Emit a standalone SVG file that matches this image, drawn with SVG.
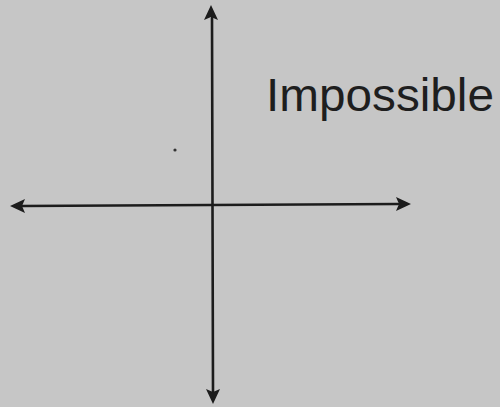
<svg xmlns="http://www.w3.org/2000/svg" width="500" height="407" viewBox="0 0 500 407">
<style>
.ax{stroke:#1c1c1c;stroke-width:2.6;fill:none;stroke-linecap:round}
.hd{fill:#1c1c1c}
.lbl{font-family:"Liberation Sans",Arial,sans-serif;font-weight:normal;fill:#1e1e1e}
</style>
<rect width="500" height="407" fill="#c6c6c6"/>
<g id="connectors">
<path class="ax" d="M22,206 L398,204"/>
<polygon class="hd" points="10,206 25,199 22,206 25,213"/>
<polygon class="hd" points="411,204 396,197 399,204 396,211"/>
<path class="ax" d="M212,18 L213,392"/>
<polygon class="hd" points="211,5 204,20 211,17 218,20"/>
<polygon class="hd" points="213,404 206,389 213,392 220,389"/>
</g>
<g id="label">
<text class="lbl" x="266" y="111" font-size="46" textLength="228" lengthAdjust="spacingAndGlyphs">Impossible</text>
</g>
<circle cx="175" cy="150" r="1.6" fill="#333"/>
</svg>
